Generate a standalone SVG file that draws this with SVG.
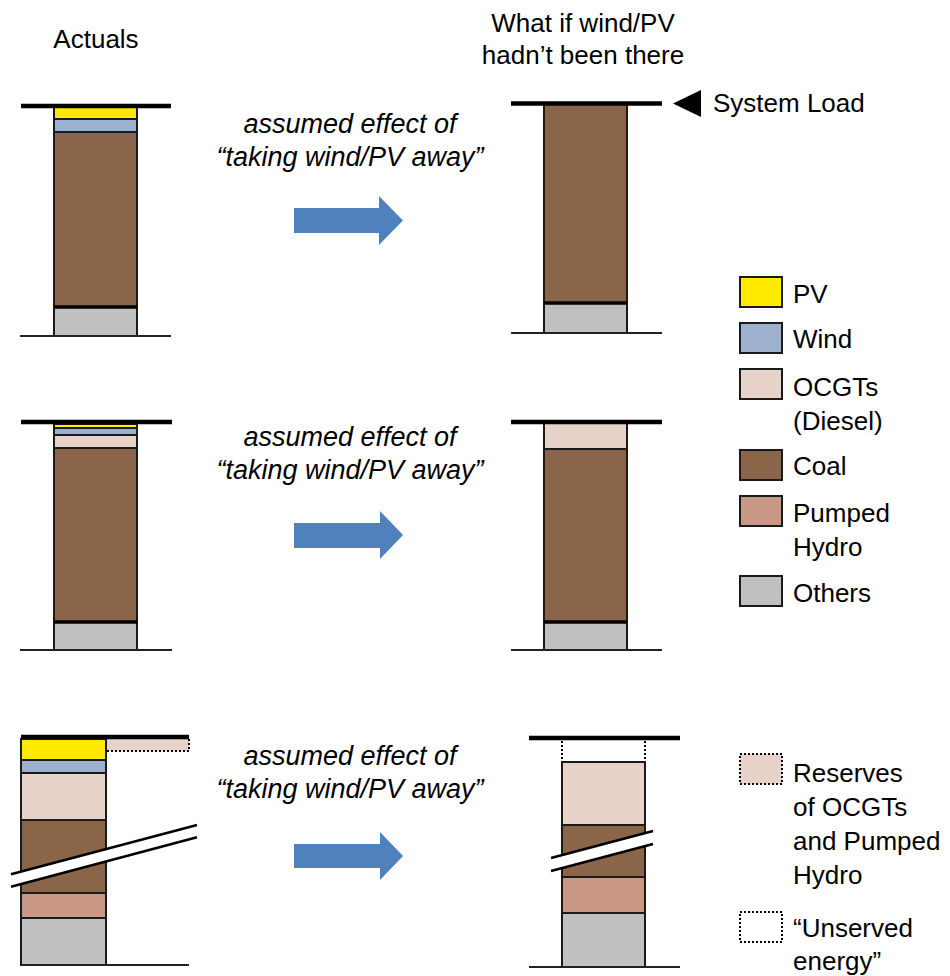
<svg xmlns="http://www.w3.org/2000/svg" width="950" height="976" viewBox="0 0 950 976">
<style>
text{font-family:"Liberation Sans",Arial,sans-serif;font-size:26px;fill:#000}
.it{font-style:italic;font-size:27px}
.seg{stroke:#1a1a1a;stroke-width:2}
.pv{fill:#FFEA00}.wind{fill:#9DB0CE}.ocgt{fill:#E8D3CA}.coal{fill:#8B654A}.ph{fill:#C99785}.oth{fill:#C0C0C0}
.load{stroke:#000;stroke-width:4.5}
.base{stroke:#222;stroke-width:2}
.dot{fill:none;stroke:#000;stroke-width:2;stroke-dasharray:2 2}
.arr{fill:#4F81BD}
.brk{stroke:#000;stroke-width:2.5}
</style>

<g id="titles">
<text x="96" y="48" text-anchor="middle">Actuals</text>
<text x="583" y="32" text-anchor="middle">What if wind/PV</text>
<text x="583" y="64" text-anchor="middle">hadn’t been there</text>
</g>

<!-- Panel 1 actuals -->
<g id="panel1">
<rect class="seg pv" x="54" y="107" width="83" height="12"/>
<rect class="seg wind" x="54" y="119" width="83" height="13"/>
<rect class="seg coal" x="54" y="132" width="83" height="175"/>
<rect class="seg oth" x="54" y="307" width="83" height="29"/>
<line x1="54" y1="307" x2="137" y2="307" stroke="#000" stroke-width="3.5"/>
<line class="load" x1="21" y1="106" x2="171" y2="106"/>
<line class="base" x1="20" y1="336" x2="171" y2="336"/>
</g>

<!-- Panel 2 -->
<g id="panel2">
<rect class="seg coal" x="544" y="104" width="83" height="199"/>
<rect class="seg oth" x="544" y="303" width="83" height="30"/>
<line x1="544" y1="303" x2="627" y2="303" stroke="#000" stroke-width="3.5"/>
<line class="load" x1="511" y1="103.5" x2="662" y2="103.5"/>
<line class="base" x1="511" y1="333" x2="662" y2="333"/>
<polygon id="load-marker" points="673,103.5 701,90 701,117" fill="#000"/>
<text x="713" y="112">System Load</text>
</g>

<!-- Panel 3 -->
<g id="panel3">
<rect class="seg pv" x="54" y="424" width="83" height="4"/>
<rect class="seg wind" x="54" y="428" width="83" height="7"/>
<rect class="seg ocgt" x="54" y="435" width="83" height="13"/>
<rect class="seg coal" x="54" y="448" width="83" height="174"/>
<rect class="seg oth" x="54" y="622" width="83" height="28"/>
<line x1="54" y1="622" x2="137" y2="622" stroke="#000" stroke-width="3.5"/>
<line class="load" x1="21" y1="422" x2="172" y2="422"/>
<line class="base" x1="20" y1="650" x2="172" y2="650"/>
</g>

<!-- Panel 4 -->
<g id="panel4">
<rect class="seg ocgt" x="544" y="423" width="83" height="26"/>
<rect class="seg coal" x="544" y="449" width="83" height="173"/>
<rect class="seg oth" x="544" y="622" width="83" height="28"/>
<line x1="544" y1="622" x2="627" y2="622" stroke="#000" stroke-width="3.5"/>
<line class="load" x1="511" y1="422" x2="662" y2="422"/>
<line class="base" x1="511" y1="650" x2="662" y2="650"/>
</g>

<!-- Panel 5 -->
<g id="panel5">
<rect x="106" y="739" width="83" height="12" class="ocgt"/>
<polyline class="dot" points="189,739 189,751 106,751"/>
<rect class="seg pv" x="21" y="739" width="85" height="21"/>
<rect class="seg wind" x="21" y="760" width="85" height="13"/>
<rect class="seg ocgt" x="21" y="773" width="85" height="47"/>
<rect class="seg coal" x="21" y="820" width="85" height="73"/>
<rect class="seg ph" x="21" y="893" width="85" height="25"/>
<rect class="seg oth" x="21" y="918" width="85" height="47"/>
<polygon points="11,874.3 197,825 197,837.3 11,886.7" fill="#fff"/>
<line class="brk" x1="11" y1="874.3" x2="197" y2="825"/>
<line class="brk" x1="11" y1="886.7" x2="197" y2="837.3"/>
<line class="load" x1="21" y1="737" x2="189" y2="737"/>
<line class="base" x1="21" y1="965" x2="189" y2="965"/>
</g>

<!-- Panel 6 -->
<g id="panel6">
<line class="dot" x1="562" y1="741" x2="562" y2="762"/>
<line class="dot" x1="645" y1="741" x2="645" y2="762"/>
<rect class="seg ocgt" x="562" y="762" width="83" height="63"/>
<rect class="seg coal" x="562" y="825" width="83" height="52"/>
<rect class="seg ph" x="562" y="877" width="83" height="36"/>
<rect class="seg oth" x="562" y="913" width="83" height="54"/>
<polygon points="551,858 653,831 653,844 551,871" fill="#fff"/>
<line class="brk" x1="551" y1="858" x2="653" y2="831"/>
<line class="brk" x1="551" y1="871" x2="653" y2="844"/>
<line class="load" x1="529" y1="738" x2="680" y2="738"/>
<line class="base" x1="529" y1="967" x2="680" y2="967"/>
</g>

<!-- Arrows and effect labels -->
<g id="connectors">
<polygon class="arr" points="294,208 379,208 379,196 403,220.5 379,245 379,233 294,233"/>
<polygon class="arr" points="294,523 380,523 380,511 403,535 380,559 380,548 294,548"/>
<polygon class="arr" points="294,844 380,844 380,832 403,856 380,880 380,868 294,868"/>
</g>
<g id="effect-labels">
<text class="it" x="350" y="133" text-anchor="middle">assumed effect of</text>
<text class="it" x="350" y="166" text-anchor="middle">“taking wind/PV away”</text>
<text class="it" x="350" y="446" text-anchor="middle">assumed effect of</text>
<text class="it" x="350" y="479" text-anchor="middle">“taking wind/PV away”</text>
<text class="it" x="350" y="765" text-anchor="middle">assumed effect of</text>
<text class="it" x="350" y="798" text-anchor="middle">“taking wind/PV away”</text>
</g>

<!-- Legend -->
<g id="legend">
<rect class="seg pv" x="740" y="277" width="42" height="30" stroke-width="2.5"/>
<text x="793" y="303">PV</text>
<rect class="seg wind" x="740" y="323" width="42" height="30" stroke-width="2.5"/>
<text x="793" y="348">Wind</text>
<rect class="seg ocgt" x="740" y="369" width="42" height="30" stroke-width="2.5"/>
<text x="793" y="396">OCGTs</text>
<text x="793" y="430">(Diesel)</text>
<rect class="seg coal" x="740" y="450" width="42" height="30" stroke-width="2.5"/>
<text x="793" y="475">Coal</text>
<rect class="seg ph" x="740" y="496" width="42" height="30" stroke-width="2.5"/>
<text x="793" y="522">Pumped</text>
<text x="793" y="556">Hydro</text>
<rect class="seg oth" x="740" y="576" width="42" height="30" stroke-width="2.5"/>
<text x="793" y="602">Others</text>
<rect x="740" y="754" width="42" height="30" class="ocgt"/>
<rect class="dot" x="740" y="754" width="42" height="30"/>
<text x="793" y="782">Reserves</text>
<text x="793" y="816">of OCGTs</text>
<text x="793" y="850">and Pumped</text>
<text x="793" y="884">Hydro</text>
<rect class="dot" x="740" y="912" width="42" height="30"/>
<text x="793" y="937">“Unserved</text>
<text x="793" y="970">energy”</text>
</g>
</svg>
